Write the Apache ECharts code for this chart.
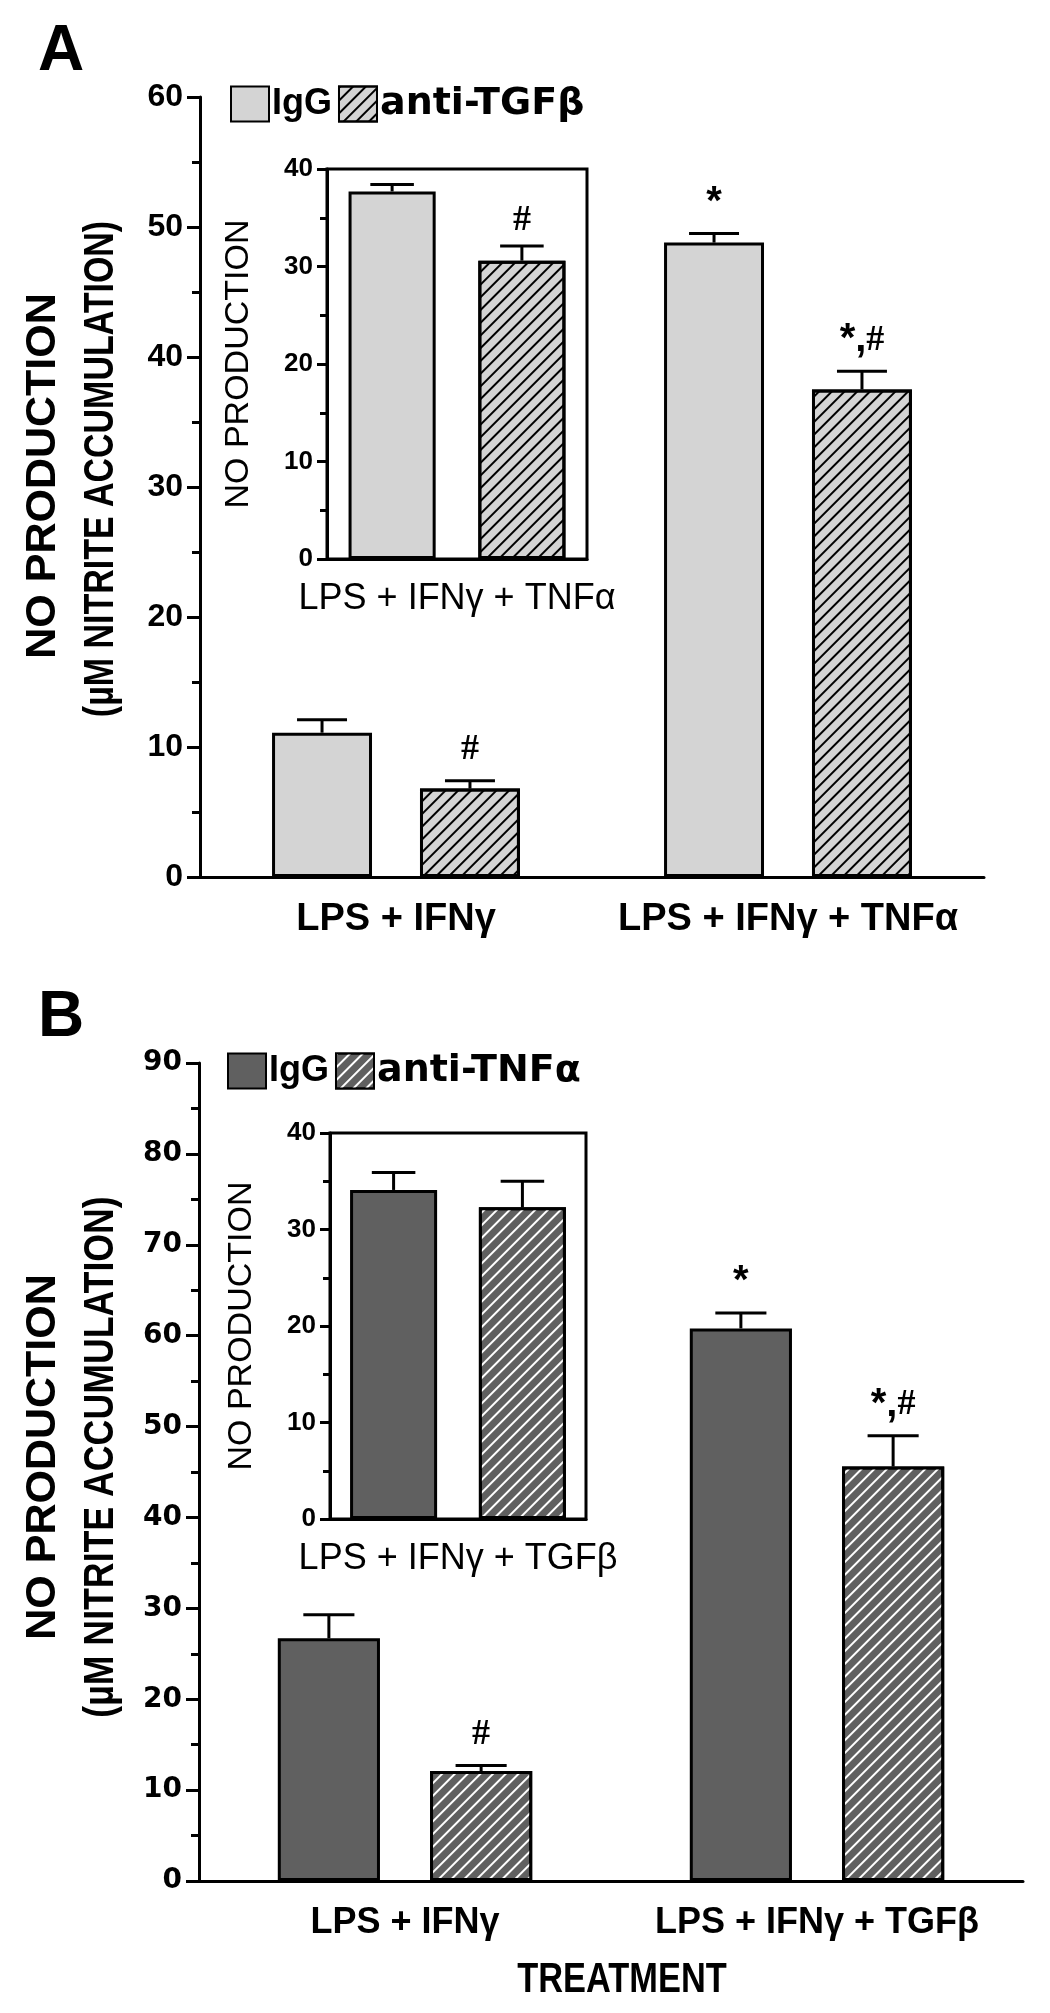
<!DOCTYPE html>
<html><head><meta charset="utf-8">
<script src="https://cdn.jsdelivr.net/npm/echarts@6/dist/echarts.min.js"></script>
<style>
html,body{margin:0;padding:0;background:#fff}
#a{position:absolute;left:0;top:0;width:1050px;height:980px}
#b{position:absolute;left:0;top:980px;width:1050px;height:1033px}
</style>
</head><body><div id="a"></div><div id="b"></div>
<script>
// ---------- DATA ----------
// Panel A (main)
const aCategories = ['LPS + IFNγ', 'LPS + IFNγ + TNFα'];
const aIgG = [11.1, 48.8];
const aIgGErrTop = [12.1, 49.5];
const aAnti = [6.8, 37.5];
const aAntiErrTop = [7.4, 38.9];
const aIgGMarks = ['', '*'];
const aAntiMarks = ['#', '*,#'];
// Panel A (inset)
const aInsetCategories = ['LPS + IFNγ + TNFα'];
const aInsetIgG = [37.7];
const aInsetIgGErrTop = [38.4];
const aInsetAnti = [30.6];
const aInsetAntiErrTop = [32.1];
const aInsetIgGMarks = [''];
const aInsetAntiMarks = ['#'];
// Panel B (main)
const bCategories = ['LPS + IFNγ', 'LPS + IFNγ + TGFβ'];
const bIgG = [26.7, 60.8];
const bIgGErrTop = [29.3, 62.5];
const bAnti = [12.1, 45.6];
const bAntiErrTop = [12.7, 49.0];
const bIgGMarks = ['', '*'];
const bAntiMarks = ['#', '*,#'];
// Panel B (inset)
const bInsetCategories = ['LPS + IFNγ + TGFβ'];
const bInsetIgG = [34.1];
const bInsetIgGErrTop = [35.9];
const bInsetAnti = [32.3];
const bInsetAntiErrTop = [35.0];
const bInsetIgGMarks = [''];
const bInsetAntiMarks = [''];
// Axis ranges
const aMainMax = 60, bMainMax = 90, insetMax = 40, tickStep = 10;
const legendA = ['IgG', 'anti-TGFβ'];
const legendB = ['IgG', 'anti-TNFα'];

// ---------- STYLE ----------
const SANS = "'Liberation Sans', Arial, sans-serif";
const DEJAVU = "'DejaVu Sans', sans-serif";
const SERIF = "'Liberation Serif', 'Times New Roman', serif";
const BLACK = '#000';

function markRich() {
  return {
    s: { fontFamily: SANS, fontWeight: 'bold', fontSize: 40, fill: BLACK, color: BLACK },
    h: { fontFamily: SERIF, fontWeight: 'bold', fontSize: 36, fill: BLACK, color: BLACK }
  };
}
function markText(m) {
  let out = '';
  for (const ch of m) {
    out += ch === '#' ? '{h|#}' : '{s|' + ch + '}';
  }
  return out;
}

function errSeries(name, xi, yi, means, tops, marks, side, barFrac, gapFrac, markGap) {
  const data = means.map((m, i) => [i, m, tops[i]]);
  return {
    type: 'custom', name: name, xAxisIndex: xi, yAxisIndex: yi, z: 5,
    silent: true, legendHoverLink: false,
    data: data,
    encode: { x: 0, y: [1, 2] },
    renderItem: function (params, api) {
      const i = api.value(0);
      const band = api.size([1, 0])[0];
      const bw = band * barFrac;
      const off = side * (bw + bw * gapFrac) / 2;
      const p0 = api.coord([i, api.value(1)]);
      const p1 = api.coord([i, api.value(2)]);
      const x = p0[0] + off;
      const children = [
        { type: 'line', shape: { x1: x, y1: p0[1], x2: x, y2: p1[1] }, style: { stroke: BLACK, lineWidth: 3 } },
        { type: 'line', shape: { x1: x - bw / 4, y1: p1[1], x2: x + bw / 4, y2: p1[1] }, style: { stroke: BLACK, lineWidth: 3 } }
      ];
      const m = marks[params.dataIndex];
      if (m) {
        children.push({ type: 'text', x: x, y: p1[1] - markGap,
          style: { text: markText(m), rich: markRich(), align: 'center', verticalAlign: 'middle' } });
      }
      return { type: 'group', children: children };
    }
  };
}

function valueAxis(grid, max, labelSize, labelFont, tickLen, minorLen, margin) {
  return {
    gridIndex: grid, type: 'value', min: 0, max: max, interval: tickStep,
    axisLine: { show: true, lineStyle: { color: BLACK, width: 3 } },
    axisTick: { show: true, length: tickLen, lineStyle: { color: BLACK, width: 3 } },
    minorTick: { show: true, splitNumber: 2, length: minorLen, lineStyle: { color: BLACK, width: 3 } },
    splitLine: { show: false }, minorSplitLine: { show: false },
    axisLabel: { color: BLACK, fontFamily: labelFont, fontWeight: 'bold', fontSize: labelSize, margin: margin }
  };
}

function buildPanel(cfg) {
  const decal = {
    symbol: 'rect', symbolSize: 1, color: cfg.stripe,
    dashArrayX: [1, 0], dashArrayY: [2, 7], rotation: -Math.PI / 4
  };
  const baseStyle = { color: cfg.fill, borderColor: BLACK, borderWidth: 3 };
  const hatchStyle = { color: cfg.fill, borderColor: BLACK, borderWidth: 3, decal: decal };
  const mainBarFrac = cfg.mainBarFrac, mainGap = cfg.mainGap;
  const insetBarFrac = cfg.insetBarFrac, insetGap = cfg.insetGap;
  return {
    animation: false,
    backgroundColor: '#fff',
    grid: [
      Object.assign({ containLabel: false }, cfg.mainGrid),
      Object.assign({ containLabel: false, show: true, borderColor: BLACK, borderWidth: 3, backgroundColor: 'transparent' }, cfg.insetGrid)
    ],
    legend: {
      left: cfg.legendLeft, top: cfg.legendTop, itemWidth: 38, itemHeight: 35, itemGap: cfg.legendGap,
      icon: 'rect', selectedMode: false,
      data: cfg.legend,
      formatter: function (name) { return name === 'IgG' ? '{g|' + name + '}' : '{t|' + name + '}'; },
      textStyle: {
        color: BLACK, padding: [0, 0, 0, -2],
        rich: {
          g: { fontFamily: SANS, fontWeight: 'bold', fontSize: 36, color: BLACK },
          t: { fontFamily: DEJAVU, fontWeight: 'bold', fontSize: 38, color: BLACK }
        }
      }
    },
    xAxis: [
      {
        gridIndex: 0, type: 'category', data: cfg.categories,
        axisLine: { lineStyle: { color: BLACK, width: 3 } },
        axisTick: { alignWithLabel: true, length: 14, lineStyle: { color: BLACK, width: 3 } },
        axisLabel: { interval: 0, color: BLACK, fontFamily: SANS, fontWeight: 'bold', fontSize: cfg.xLabelSize, margin: 24 }
      },
      {
        gridIndex: 1, type: 'category', data: cfg.insetCategories,
        axisLine: { lineStyle: { color: BLACK, width: 3 } },
        axisTick: { show: false },
        axisLabel: { interval: 0, color: BLACK, fontFamily: SANS, fontSize: 36, margin: 22 }
      }
    ],
    yAxis: [
      valueAxis(0, cfg.mainMax, cfg.yLabelSize, cfg.yLabelFont, 13, 8, 17),
      Object.assign(valueAxis(1, insetMax, 26, SANS, 10, 7, 14), {
        name: 'NO PRODUCTION', nameLocation: 'middle', nameRotate: 90, nameGap: 71,
        nameTextStyle: { color: BLACK, fontFamily: SANS, fontSize: 34 }
      })
    ],
    graphic: cfg.graphic,
    series: [
      { type: 'bar', name: cfg.legend[0], xAxisIndex: 0, yAxisIndex: 0, data: cfg.igg,
        barWidth: (mainBarFrac * 100) + '%', barGap: (mainGap * 100) + '%', itemStyle: baseStyle },
      { type: 'bar', name: cfg.legend[1], xAxisIndex: 0, yAxisIndex: 0, data: cfg.anti,
        barWidth: (mainBarFrac * 100) + '%', barGap: (mainGap * 100) + '%', itemStyle: hatchStyle },
      { type: 'bar', name: cfg.legend[0], xAxisIndex: 1, yAxisIndex: 1, data: cfg.insetIgg,
        barWidth: (insetBarFrac * 100) + '%', barGap: (insetGap * 100) + '%', itemStyle: baseStyle },
      { type: 'bar', name: cfg.legend[1], xAxisIndex: 1, yAxisIndex: 1, data: cfg.insetAnti,
        barWidth: (insetBarFrac * 100) + '%', barGap: (insetGap * 100) + '%', itemStyle: hatchStyle },
      errSeries('errIgG', 0, 0, cfg.igg, cfg.iggTop, cfg.iggMarks, -1, mainBarFrac, mainGap, 31),
      errSeries('errAnti', 0, 0, cfg.anti, cfg.antiTop, cfg.antiMarks, 1, mainBarFrac, mainGap, 31),
      errSeries('errInsetIgG', 1, 1, cfg.insetIgg, cfg.insetIggTop, cfg.insetIggMarks, -1, insetBarFrac, insetGap, 25),
      errSeries('errInsetAnti', 1, 1, cfg.insetAnti, cfg.insetAntiTop, cfg.insetAntiMarks, 1, insetBarFrac, insetGap, 25)
    ]
  };
}

function titleGraphics(letter, letterY, l1y, l2y, l2scale) {
  return [
    { type: 'text', left: 38, top: letterY, style: { text: letter, font: "bold 64px " + SANS, fill: BLACK } },
    { type: 'text', x: 43, y: l1y, rotation: Math.PI / 2,
      style: { text: 'NO PRODUCTION', font: "bold 43px " + SANS, fill: BLACK, align: 'center', verticalAlign: 'middle' } },
    { type: 'text', x: 101, y: l2y, rotation: Math.PI / 2, scaleX: l2scale, scaleY: 1,
      style: { text: '(µM NITRITE ACCUMULATION)', font: "bold 43px " + SANS, fill: BLACK, align: 'center', verticalAlign: 'middle' } }
  ];
}

const chartA = echarts.init(document.getElementById('a'), null, { renderer: 'canvas' });
chartA.setOption(buildPanel({
  fill: '#d4d4d4', stripe: '#000',
  mainGrid: { left: 200, top: 97, width: 784, height: 780 },
  insetGrid: { left: 327, top: 169, width: 260, height: 390 },
  mainBarFrac: 0.255, mainGap: 0.48, insetBarFrac: 0.335, insetGap: 0.49,
  legendLeft: 225, legendTop: 80, legendGap: 6, legend: legendA,
  categories: aCategories, insetCategories: aInsetCategories,
  mainMax: aMainMax, yLabelSize: 32, yLabelFont: SANS, xLabelSize: 38,
  igg: aIgG, iggTop: aIgGErrTop, anti: aAnti, antiTop: aAntiErrTop,
  iggMarks: aIgGMarks, antiMarks: aAntiMarks,
  insetIgg: aInsetIgG, insetIggTop: aInsetIgGErrTop, insetAnti: aInsetAnti, insetAntiTop: aInsetAntiErrTop,
  insetIggMarks: aInsetIgGMarks, insetAntiMarks: aInsetAntiMarks,
  graphic: titleGraphics('A', 20, 476, 469, 0.79)
}));

const chartB = echarts.init(document.getElementById('b'), null, { renderer: 'canvas' });
const gB = titleGraphics('B', 6, 477, 477, 0.83);
gB.push({ type: 'text', x: 622, y: 1000, scaleX: 0.8, scaleY: 1,
  style: { text: 'TREATMENT', font: "bold 43px " + SANS, fill: BLACK, align: 'center', verticalAlign: 'middle' } });
chartB.setOption(buildPanel({
  fill: '#606060', stripe: '#fff',
  mainGrid: { left: 199, top: 83, width: 824, height: 818 },
  insetGrid: { left: 330, top: 153, width: 256, height: 386 },
  mainBarFrac: 0.248, mainGap: 0.49, insetBarFrac: 0.34, insetGap: 0.48,
  legendLeft: 222, legendTop: 67, legendGap: 6, legend: legendB,
  categories: bCategories, insetCategories: bInsetCategories,
  mainMax: bMainMax, yLabelSize: 28, yLabelFont: DEJAVU, xLabelSize: 36,
  igg: bIgG, iggTop: bIgGErrTop, anti: bAnti, antiTop: bAntiErrTop,
  iggMarks: bIgGMarks, antiMarks: bAntiMarks,
  insetIgg: bInsetIgG, insetIggTop: bInsetIgGErrTop, insetAnti: bInsetAnti, insetAntiTop: bInsetAntiErrTop,
  insetIggMarks: bInsetIgGMarks, insetAntiMarks: bInsetAntiMarks,
  graphic: gB
}));
</script>
</body></html>
